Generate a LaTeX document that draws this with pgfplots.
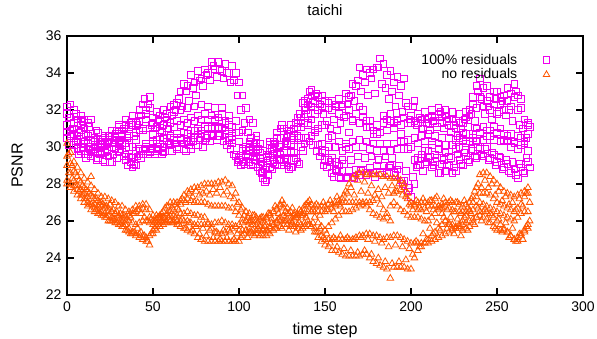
\documentclass[border=0pt]{standalone}
\usepackage{pgfplots}
\pgfplotsset{compat=1.18}
\usepackage{pgfplotstable}
\usepackage{fontspec}
\setmainfont{Liberation Sans}
\definecolor{mag}{RGB}{240,0,240}
\definecolor{org}{RGB}{255,85,0}

\pgfplotstableread{
x ma mb md me mz
0 32.2 30.5 31.8 30.8 31.2
2 31.6 30.7 32.3 30.6 30.9
4 32.0 30.1 31.0 30.7 31.3
6 31.3 30.4 31.5 29.9 30.6
8 31.7 29.8 31.2 30.3 30.9
10 31.0 30.2 31.5 29.6 30.3
12 31.3 29.6 30.4 30.2 30.6
14 31.5 29.5 30.7 29.7 30.0
16 30.5 29.9 30.1 30.4 30.3
18 30.8 29.4 30.4 30.0 29.7
20 30.2 29.7 29.8 30.3 30.0
22 30.6 29.2 30.5 30.1 29.7
24 30.3 29.5 30.2 30.6 30.4
26 30.9 29.2 30.9 30.0 30.0
28 30.5 29.9 30.6 30.4 30.7
30 31.1 29.8 31.2 29.7 30.3
32 30.6 30.1 30.9 30.2 30.7
34 31.2 29.3 31.5 29.6 30.2
36 30.7 29.5 31.1 30.0 30.6
38 31.2 28.9 31.7 29.4 30.0
40 30.8 29.0 31.3 29.8 30.4
42 31.4 29.6 32.0 29.9 30.9
44 30.9 29.8 32.3 29.6 31.0
46 31.5 30.0 32.0 30.2 31.8
48 31.0 29.7 32.1 29.8 32.7
50 31.6 30.2 31.3 30.3 30.7
52 31.1 29.8 31.9 29.9 30.4
54 31.7 30.2 31.4 30.4 30.9
56 31.2 29.7 32.0 30.0 30.5
58 31.8 30.3 31.5 30.5 31.0
60 31.3 30.2 32.2 30.1 30.6
62 31.9 30.4 32.3 30.5 31.1
64 31.4 30.0 32.4 29.9 30.7
66 32.0 30.5 33.0 30.4 31.2
68 31.5 30.2 33.4 29.9 30.8
70 32.1 30.7 33.3 30.3 31.3
72 31.6 30.4 33.9 29.9 30.9
74 32.2 30.9 33.5 30.5 31.4
76 31.7 30.5 34.1 30.1 31.0
78 32.3 30.9 33.7 30.7 31.5
80 31.8 30.6 34.2 30.3 31.1
82 32.2 31.0 34.0 31.0 31.5
84 31.7 30.6 34.6 30.7 31.1
86 32.1 31.0 34.2 31.4 31.5
88 31.6 30.6 34.6 31.1 31.0
90 32.1 31.0 34.1 31.8 31.4
92 31.4 30.7 34.5 31.3 30.9
94 31.7 30.5 34.0 30.4 31.2
96 31.1 30.2 34.4 30.4 30.6
98 31.4 29.6 34.0 29.5 30.8
100 30.8 29.3 33.5 29.4 30.3
102 30.9 29.2 32.8 29.8 29.9
104 30.0 29.6 32.1 29.6 29.5
106 30.3 29.2 31.5 30.2 29.8
108 29.9 29.1 31.3 29.7 30.0
110 30.4 29.5 30.6 30.0 29.8
112 29.7 28.7 30.2 29.1 29.4
114 29.8 28.3 29.8 28.6 29.0
116 29.5 28.2 29.6 28.9 29.4
118 30.3 28.9 30.1 29.3 29.3
120 30.3 29.2 29.8 29.3 30.0
122 30.8 29.0 30.5 29.7 29.6
124 30.5 29.6 31.0 29.3 30.1
126 31.0 29.2 30.5 29.8 29.7
128 30.7 29.0 30.6 29.3 30.2
130 31.2 28.9 30.1 29.7 29.8
132 31.0 29.3 30.4 29.7 30.6
134 31.6 29.2 31.1 30.5 30.6
136 31.6 30.0 31.1 30.5 31.4
138 32.5 30.2 32.1 31.3 31.8
140 32.6 31.2 32.3 31.3 31.8
142 33.1 30.6 32.8 31.5 32.2
144 32.8 30.8 32.5 30.9 31.8
146 32.7 30.1 32.8 31.0 32.0
148 32.8 29.7 32.2 30.2 31.2
150 32.1 29.3 32.5 29.8 31.2
152 32.4 29.3 32.1 30.0 30.5
154 32.0 28.6 32.5 29.4 30.6
156 32.3 28.8 32.2 29.2 30.0
158 31.8 28.4 32.6 29.0 30.3
160 32.2 28.7 32.3 29.3 29.8
162 31.7 28.3 32.9 30.0 30.2
164 32.0 28.7 32.7 30.8 29.9
166 31.5 28.4 33.4 31.4 30.3
168 31.8 28.8 33.3 31.8 30.0
170 31.3 28.5 34.3 32.2 30.4
172 31.6 28.8 33.9 32.0 30.0
174 31.1 28.5 34.2 31.4 30.3
176 31.4 28.9 34.0 31.1 29.9
178 30.9 28.6 34.2 30.7 30.2
180 31.2 29.0 34.3 30.7 29.8
182 30.8 28.6 34.8 30.8 30.2
184 31.3 29.0 34.5 31.7 29.8
186 30.9 28.6 33.9 31.5 30.2
188 31.4 29.0 34.1 31.8 29.8
190 31.0 28.6 33.5 31.3 30.2
192 31.5 28.8 33.8 31.4 29.9
194 31.2 28.2 33.3 30.7 30.3
196 31.6 28.2 33.7 30.3 29.9
198 31.3 27.6 32.2 29.9 30.4
200 31.7 27.3 31.3 30.0 30.0
202 31.4 28.0 32.5 29.3 30.5
204 31.8 29.4 31.3 29.0 30.2
206 31.5 29.6 31.0 29.4 30.6
208 31.9 29.1 31.5 29.8 30.3
210 31.6 29.4 31.3 29.8 30.7
212 32.0 28.9 31.7 30.1 30.3
214 31.6 29.2 31.3 29.6 30.6
216 32.1 28.6 31.8 29.9 30.2
218 31.6 29.1 31.3 29.4 30.5
220 32.0 28.7 31.7 29.7 30.1
222 31.5 29.0 31.2 29.5 30.5
224 31.9 28.6 31.5 30.1 30.1
226 31.4 28.7 31.0 29.9 30.4
228 31.8 29.3 31.3 30.5 30.0
230 31.3 29.0 30.8 30.3 30.4
232 31.9 29.5 31.6 30.7 30.2
234 31.7 29.2 32.0 30.3 30.7
236 32.3 29.8 32.7 30.7 30.5
238 32.1 29.4 33.3 30.3 31.0
240 32.7 29.9 33.7 30.7 30.8
242 32.2 29.5 33.2 30.4 31.1
244 32.5 30.0 33.3 30.9 30.6
246 32.0 29.4 32.7 30.6 30.9
248 32.3 29.6 33.0 31.1 30.4
250 31.8 29.2 33.0 30.8 30.7
252 32.3 29.4 32.7 31.0 30.3
254 32.0 28.9 32.8 30.4 30.7
256 32.5 29.1 33.2 30.6 30.3
258 32.2 28.6 32.9 30.0 30.7
260 32.7 28.8 33.4 30.2 30.3
262 32.0 28.3 32.8 29.9 30.6
264 32.1 28.9 32.6 30.5 30.1
266 31.5 28.6 31.5 30.2 30.3
268 31.3 29.2 31.2 30.7 29.8
}\magtab

\pgfplotstableread{
x mf mg of og
1 31.6 30.1 29.6 28.6
3 31.0 29.8 29.0 28.3
5 31.8 30.3 28.6 27.9
7 30.8 29.6 28.2 27.6
9 31.4 30.0 27.9 27.4
11 30.7 29.4 27.7 27.2
13 31.1 29.9 27.5 26.9
15 30.4 29.8 27.3 26.8
17 30.9 29.3 27.2 26.6
19 30.1 29.6 27.0 26.4
21 30.4 29.3 26.9 26.3
23 29.9 29.8 26.8 26.2
25 30.6 29.2 26.9 26.0
27 30.2 29.6 26.6 26.1
29 30.9 29.4 26.5 25.9
31 30.4 29.9 26.4 25.8
33 31.0 29.5 26.3 25.7
35 30.5 29.0 26.1 25.5
37 31.3 29.2 26.2 25.3
39 30.6 29.1 26.4 25.4
41 31.2 29.5 26.6 25.6
43 31.7 29.4 26.4 25.4
45 32.6 29.9 26.2 25.2
47 32.3 29.6 26.0 24.9
49 31.2 29.9 26.1 25.3
51 31.0 29.6 26.0 25.6
53 31.5 30.0 26.2 25.8
55 30.8 29.6 26.4 26.0
57 31.6 29.8 26.7 25.9
59 31.0 30.1 26.8 26.2
61 31.7 29.8 26.7 25.9
63 32.0 30.2 26.9 26.2
65 32.6 29.9 26.6 25.8
67 32.2 30.2 27.2 26.1
69 33.0 29.8 27.0 25.6
71 32.5 30.1 27.5 25.9
73 33.2 30.3 27.3 25.5
75 32.8 30.1 27.6 25.7
77 33.6 30.4 27.4 25.3
79 33.3 30.0 27.5 25.6
81 33.9 30.5 27.6 25.2
83 33.6 30.3 27.4 25.5
85 34.4 30.6 27.7 25.1
87 33.8 30.4 27.5 25.4
89 34.2 30.6 27.8 25.0
91 33.7 30.3 27.4 25.5
93 34.0 30.1 27.6 25.1
95 33.5 29.9 27.3 25.4
97 33.6 29.6 27.2 25.0
99 32.8 29.2 26.9 25.3
101 32.0 29.0 26.6 25.1
103 31.3 29.1 26.3 25.3
105 30.8 29.5 26.2 25.1
107 30.5 29.0 26.0 25.4
109 30.2 29.3 26.3 25.2
111 29.9 28.9 25.9 25.6
113 29.2 28.6 26.2 25.3
115 28.8 28.1 25.9 25.7
117 29.6 28.5 26.4 25.4
119 29.9 28.8 26.1 25.9
121 30.2 29.1 26.8 25.6
123 30.0 29.3 26.4 26.1
125 31.2 29.0 27.1 25.6
127 30.3 29.4 26.5 26.0
129 30.9 28.8 26.4 25.5
131 30.5 28.9 26.7 25.9
133 31.3 29.4 26.2 25.4
135 31.8 29.1 26.6 25.9
137 32.4 29.8 26.3 25.6
139 32.0 30.5 26.9 26.2
141 33.0 30.3 27.1 25.8
143 32.4 30.1 26.6 25.9
145 32.9 29.8 26.9 25.4
147 32.3 29.5 26.3 25.6
149 31.8 29.0 27.0 25.1
151 31.4 28.9 26.6 25.3
153 31.0 29.2 27.1 24.8
155 31.5 28.4 26.5 25.1
157 30.9 28.7 27.3 24.6
159 31.3 28.3 26.8 25.2
161 31.6 29.1 27.4 24.5
163 32.3 28.4 27.5 25.1
165 32.8 29.3 27.8 24.4
167 32.5 28.3 27.4 25.0
169 33.6 29.5 28.2 24.3
171 33.0 28.7 27.6 25.1
173 33.5 29.4 28.1 24.4
175 32.8 28.6 27.5 25.0
177 33.7 29.5 27.9 24.2
179 32.9 28.4 27.4 24.9
181 34.3 29.3 27.7 24.0
183 33.4 28.5 27.3 24.8
185 33.2 29.5 27.8 23.8
187 32.6 28.9 27.5 24.6
189 33.0 29.4 27.9 23.7
191 32.2 28.5 27.6 24.7
193 32.8 29.0 28.0 23.8
195 31.9 28.0 27.4 24.6
197 32.4 28.7 27.3 23.9
199 31.5 27.8 26.9 24.5
201 32.2 28.4 26.6 24.2
203 31.2 28.9 27.1 24.9
205 31.6 29.0 26.7 24.6
207 31.0 28.7 27.2 25.3
209 31.3 29.2 26.5 25.0
211 30.9 29.5 27.1 25.6
213 31.4 29.0 26.6 25.3
215 31.1 29.4 27.3 25.9
217 31.9 28.6 26.7 25.5
219 31.0 29.3 27.2 26.2
221 31.4 29.0 26.6 25.6
223 30.8 29.4 27.1 26.2
225 31.2 28.9 26.5 25.3
227 30.6 29.6 27.0 26.1
229 31.0 29.1 26.4 25.2
231 31.5 29.7 27.1 26.2
233 31.1 29.3 26.7 25.5
235 31.8 29.9 27.2 26.4
237 31.4 29.5 27.6 25.8
239 33.0 30.0 28.0 26.7
241 32.6 29.6 27.8 26.0
243 31.8 29.9 28.2 26.6
245 32.2 29.3 27.8 25.9
247 31.5 29.7 28.0 26.3
249 32.6 29.0 27.4 25.6
251 31.9 29.5 27.6 26.1
253 32.5 28.8 27.1 25.4
255 31.7 29.3 27.3 25.9
257 32.0 28.7 26.9 25.1
259 31.4 29.2 27.0 25.6
261 33.0 28.5 26.6 24.9
263 31.2 29.1 27.2 25.3
265 31.0 28.7 26.8 25.0
267 30.5 29.4 27.5 25.7
269 31.1 28.9 27.0 26.0
}\oddtab

\pgfplotstableread{
x oa ob oc od oe
0 30.2 29.5 28.2 28.0 29.0
2 29.7 29.1 28.0 27.8 28.6
4 29.2 28.7 27.9 27.6 28.2
6 28.9 28.4 27.7 27.4 27.9
8 28.6 28.1 27.4 27.2 27.7
10 28.3 27.8 27.2 27.0 27.5
12 28.1 27.6 27.0 26.8 27.3
14 27.9 27.4 26.9 26.6 28.4
16 27.7 27.2 26.7 26.5 26.9
18 27.5 27.1 26.6 26.4 26.8
20 27.3 27.0 26.5 26.3 26.8
22 27.3 26.8 26.4 26.2 26.7
24 27.2 26.7 26.3 26.0 26.5
26 27.1 26.5 26.2 26.0 26.5
28 27.0 26.4 26.1 25.9 26.4
30 26.8 26.2 26.0 25.8 26.3
32 26.8 26.1 25.9 25.7 26.3
34 26.6 26.0 25.8 25.5 26.2
36 26.5 26.0 25.6 25.4 26.3
38 26.6 25.9 25.4 25.3 26.4
40 26.8 25.8 25.3 25.2 26.5
42 26.8 25.9 25.3 25.1 26.6
44 26.9 26.0 25.2 25.0 26.7
46 26.9 26.0 24.9 25.1 26.6
48 26.6 25.9 24.7 25.2 26.2
50 26.3 25.8 25.5 25.3 26.0
52 26.3 25.9 25.7 25.5 26.1
54 26.3 26.1 25.9 25.7 26.2
56 26.5 26.2 26.0 25.8 26.2
58 26.8 26.4 26.0 25.9 26.3
60 27.0 26.5 26.0 26.0 26.3
62 27.0 26.6 26.0 25.9 26.3
64 27.0 26.7 26.0 25.8 26.3
66 27.1 26.9 26.0 25.7 26.4
68 27.4 27.1 26.0 25.6 26.4
70 27.6 27.2 26.0 25.5 26.5
72 27.7 27.1 25.9 25.4 26.4
74 27.8 27.0 25.8 25.3 26.3
76 27.8 27.0 25.8 25.1 26.3
78 27.9 27.0 25.8 25.0 26.2
80 28.0 27.0 25.8 24.9 26.2
82 28.0 26.9 25.8 24.9 25.9
84 28.0 26.8 25.8 24.9 25.6
86 28.0 26.8 25.9 24.9 25.4
88 28.1 26.8 25.9 24.9 25.3
90 28.1 26.8 26.0 24.9 25.3
92 28.2 26.8 25.9 24.9 25.4
94 28.0 26.7 25.8 24.9 25.5
96 27.9 26.7 25.8 24.9 25.6
98 27.5 26.5 25.7 24.9 25.7
100 27.0 26.3 25.5 24.9 25.8
102 26.7 26.1 25.5 25.2 25.9
104 26.5 26.0 25.5 25.5 26.0
106 26.4 25.9 25.4 25.6 26.0
108 26.3 25.8 25.3 25.5 26.0
110 26.2 25.8 25.3 25.5 26.0
112 26.1 25.7 25.2 25.5 26.1
114 26.0 25.6 25.2 25.5 26.2
116 26.1 25.5 25.2 25.5 26.2
118 26.3 25.7 25.3 25.6 26.4
120 26.5 25.8 25.5 25.8 26.5
122 26.7 26.0 25.6 25.9 26.6
124 26.9 26.2 25.7 26.0 26.8
126 26.9 26.3 25.8 26.0 26.7
128 26.7 26.1 25.8 25.8 26.4
130 26.5 26.0 25.8 25.7 26.2
132 26.4 26.1 25.7 25.7 26.3
134 26.3 26.2 25.6 25.8 26.4
136 26.5 26.3 25.5 25.8 26.5
138 26.8 26.4 25.7 25.9 26.6
140 27.0 26.5 25.8 26.0 26.8
142 26.9 26.5 25.7 25.7 26.5
144 26.8 26.5 25.6 25.4 26.2
146 26.8 26.5 25.4 25.1 25.9
148 26.8 26.5 25.2 24.9 25.7
150 26.8 26.5 25.0 24.7 25.5
152 26.9 26.6 25.0 24.6 25.7
154 26.9 26.7 25.0 24.4 25.9
156 27.0 26.8 25.0 24.4 26.1
158 27.1 26.9 25.0 24.3 26.3
160 27.2 27.0 25.0 24.2 26.5
162 27.6 27.0 25.0 24.1 26.5
164 28.0 27.0 25.0 24.1 26.5
166 28.3 27.0 25.0 24.1 26.6
168 28.5 27.0 25.1 24.1 26.7
170 28.6 27.0 25.2 24.1 26.8
172 28.6 27.0 25.2 24.2 26.9
174 28.5 26.8 25.3 24.2 27.0
176 28.5 26.6 25.3 24.0 27.0
178 28.5 26.4 25.2 23.8 27.1
180 28.5 26.3 25.2 23.7 27.2
182 28.5 26.2 25.1 23.6 26.9
184 28.4 26.1 25.0 23.5 26.6
186 28.4 26.4 25.1 23.4 26.2
188 28.3 26.8 25.1 22.9 26.0
190 28.3 27.0 25.2 23.5 27.5
192 28.3 26.8 25.2 23.5 27.6
194 28.2 26.6 25.1 23.5 27.7
196 28.0 26.5 25.0 23.5 27.8
198 27.5 26.3 24.9 23.4 27.2
200 27.0 26.2 24.8 23.4 26.8
202 26.8 26.2 24.8 24.0 26.9
204 26.6 26.2 24.8 24.4 27.0
206 26.6 26.1 24.8 24.6 27.0
208 26.7 26.0 24.8 24.8 27.0
210 26.8 26.0 24.8 25.0 27.0
212 26.8 26.2 24.9 25.2 27.1
214 26.8 26.4 25.0 25.4 27.2
216 26.8 26.6 25.1 25.6 26.8
218 26.9 26.7 25.2 25.8 26.4
220 27.0 26.8 25.3 26.0 26.0
222 27.0 26.7 25.4 25.9 25.8
224 27.0 26.6 25.5 25.8 25.6
226 27.0 26.5 25.6 25.7 25.6
228 26.9 26.5 25.7 25.6 25.8
230 26.8 26.5 25.8 25.5 26.0
232 26.9 26.5 25.9 25.6 26.3
234 27.0 26.5 26.0 25.7 26.6
236 27.3 26.6 26.1 25.9 27.0
238 27.8 26.8 26.2 26.2 27.3
240 28.5 27.0 26.3 26.5 27.5
242 28.6 26.9 26.2 26.5 27.5
244 28.6 26.8 26.1 26.5 27.5
246 28.4 26.7 25.9 26.4 27.4
248 28.2 26.6 25.7 26.2 27.2
250 28.0 26.5 25.5 26.0 27.0
252 27.8 26.4 25.5 25.8 26.9
254 27.6 26.3 25.5 25.6 26.8
256 27.5 26.2 25.4 25.4 26.7
258 27.4 26.1 25.2 25.2 26.6
260 27.3 26.0 25.0 25.0 26.5
262 27.4 26.2 25.1 24.9 26.7
264 27.5 26.4 25.3 25.2 26.9
266 27.6 26.5 25.5 25.4 27.3
268 27.5 26.5 25.8 25.6 27.8
}\orgtab

\pgfplotsset{
  magm/.style={only marks, mark=square, mark size=3.3pt, color=mag,
    mark options={solid, draw=mag, fill=none, line width=0.7pt}},
  orgm/.style={only marks, mark=triangle, mark size=3.8pt, color=org,
    mark options={solid, draw=org, fill=none, line width=0.8pt}},
}

\begin{document}
\begin{tikzpicture}
\begin{axis}[
  scale only axis,
  width=516pt, height=259pt,
  xmin=0, xmax=300, ymin=22, ymax=36,
  xtick={0,50,...,300}, ytick={22,24,...,36},
  tick align=inside, major tick length=7pt,
  axis line style={line width=1.6pt},
  every tick/.style={line width=1.6pt},
  /pgf/number format/assume math mode=true,
  tick label style={font=\fontsize{14}{16}\selectfont},
  xticklabel style={yshift=-3pt},
  yticklabel style={xshift=-2pt},
  title={taichi},
  every axis title/.style={at={(axis description cs:0.5,1)}, anchor=center, yshift=26pt, font=\fontsize{15}{17}\selectfont},
  xlabel={time step},
  ylabel={PSNR},
  every axis x label/.style={at={(axis description cs:0.5,0)}, anchor=center, yshift=-35pt, font=\fontsize{16}{18}\selectfont},
  every axis y label/.style={at={(axis description cs:0,0.5)}, xshift=-50pt, anchor=center, rotate=90, font=\fontsize{16}{18}\selectfont},
  legend plot pos=right,
  legend cell align=right,
  legend image code/.code={\draw[mark repeat=2,mark phase=2,#1] plot coordinates {(0cm,0cm) (0.3cm,0cm) (0.6cm,0cm)};},
  legend style={draw=none, fill=none, at={(1,1)}, anchor=north east, xshift=-30pt, yshift=-14pt,
    font=\fontsize{14}{16}\selectfont, row sep=-1pt,
    /tikz/every odd column/.append style={column sep=24pt}},
]
\addplot[forget plot, magm] table[x=x,y=mb]{\magtab};
\addplot[forget plot, magm] table[x=x,y=md]{\magtab};
\addplot[forget plot, magm] table[x=x,y=me]{\magtab};
\addplot[forget plot, magm] table[x=x,y=mf]{\oddtab};
\addplot[forget plot, magm] table[x=x,y=mg]{\oddtab};
\addplot[forget plot, magm] table[x=x,y=mz]{\magtab};
\addplot[magm] table[x=x,y=ma]{\magtab};
\addlegendentry{100\% residuals}
\addplot[orgm] table[x=x,y=oa]{\orgtab};
\addlegendentry{no residuals}
\addplot[forget plot, orgm] table[x=x,y=ob]{\orgtab};
\addplot[forget plot, orgm] table[x=x,y=oc]{\orgtab};
\addplot[forget plot, orgm] table[x=x,y=od]{\orgtab};
\addplot[forget plot, orgm] table[x=x,y=oe]{\orgtab};
\addplot[forget plot, orgm] table[x=x,y=of]{\oddtab};
\addplot[forget plot, orgm] table[x=x,y=og]{\oddtab};
\end{axis}
\pgfresetboundingbox
\path (-67pt,-44pt) rectangle (530pt,295pt);
\end{tikzpicture}
\end{document}
